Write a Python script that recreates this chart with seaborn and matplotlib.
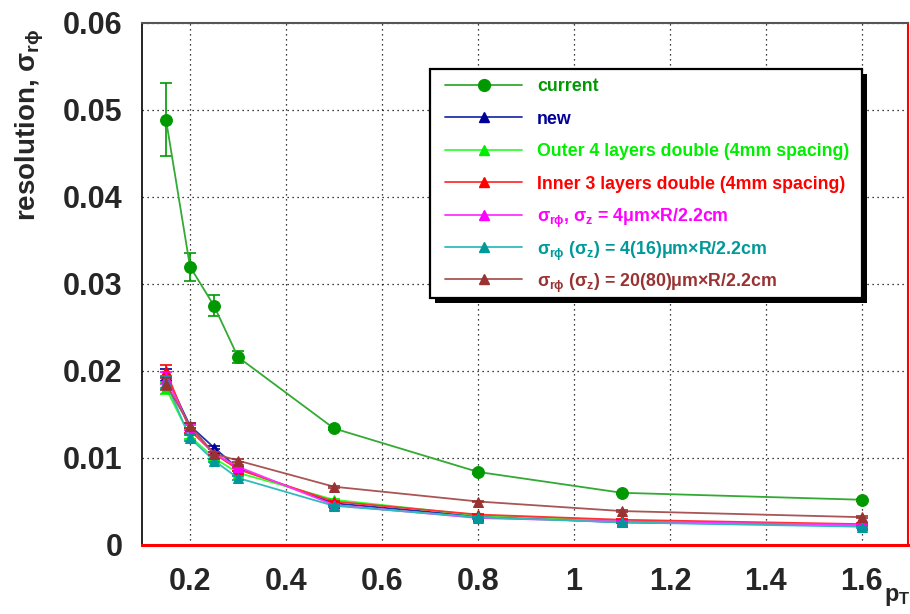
import numpy as np
import pandas as pd
import matplotlib
matplotlib.use("Agg")
import matplotlib.pyplot as plt
from matplotlib.ticker import MultipleLocator, FixedLocator, FixedFormatter
from matplotlib.patches import Rectangle
from matplotlib.lines import Line2D
import seaborn as sns

# ---- data ----
pt = [0.15, 0.2, 0.25, 0.3, 0.5, 0.8, 1.1, 1.6]
current = [0.0489, 0.0320, 0.0275, 0.0216, 0.0134, 0.0084, 0.0060, 0.0052]
current_err = [0.0042, 0.0016, 0.0012, 0.0007, 0.0002, 0.0002, 0.0001, 0.0001]
new = [0.0195, 0.0137, 0.0112, 0.0088, 0.0048, 0.0033, 0.0026, 0.0023]
outer4 = [0.0180, 0.0125, 0.0100, 0.0083, 0.0052, 0.0034, 0.0028, 0.0023]
inner3 = [0.0200, 0.0132, 0.0105, 0.0087, 0.0050, 0.0035, 0.0029, 0.0024]
res4 = [0.0192, 0.0135, 0.0105, 0.0090, 0.0046, 0.0031, 0.0027, 0.0023]
res4_16 = [0.0187, 0.0123, 0.0097, 0.0077, 0.0045, 0.0032, 0.0026, 0.0021]
res20_80 = [0.0185, 0.0137, 0.0105, 0.0097, 0.0067, 0.0050, 0.0039, 0.0032]
small_err = [0.0007, 0.0003, 0.0002, 0.0002, 0.0001, 0.0001, 0.0001, 0.0001]

xticks = [0.2, 0.4, 0.6, 0.8, 1.0, 1.2, 1.4, 1.6]
xticklabels = ["0.2", "0.4", "0.6", "0.8", "1", "1.2", "1.4", "1.6"]
yticks = [0.0, 0.01, 0.02, 0.03, 0.04, 0.05, 0.06]
yticklabels = ["0", "0.01", "0.02", "0.03", "0.04", "0.05", "0.06"]

labels = [
    "current",
    "new",
    "Outer 4 layers double (4mm spacing)",
    "Inner 3 layers double (4mm spacing)",
    r"$\sigma_{r\phi}$, $\sigma_z$ = 4$\mu$m$\times$R/2.2cm",
    r"$\sigma_{r\phi}$ ($\sigma_z$) = 4(16)$\mu$m$\times$R/2.2cm",
    r"$\sigma_{r\phi}$ ($\sigma_z$) = 20(80)$\mu$m$\times$R/2.2cm",
]
series = [current, new, outer4, inner3, res4, res4_16, res20_80]
line_colors = ["#33aa33", "#2233aa", "#33ff33", "#ff3333", "#ff33ff", "#33bbbb", "#aa5555"]
mk_colors = ["#009900", "#000099", "#00ee00", "#ff0000", "#ff00ff", "#009999", "#993333"]
markers = ["o", "^", "^", "^", "^", "^", "^"]
msizes = [8.5, 7, 7, 7, 7, 7, 7]

sns.set_style("white")
plt.rcParams["font.family"] = ["Liberation Sans", "DejaVu Sans"]
plt.rcParams["font.weight"] = "bold"
plt.rcParams["mathtext.fontset"] = "custom"
plt.rcParams["mathtext.rm"] = "Liberation Sans:bold"
plt.rcParams["mathtext.it"] = "Liberation Sans:bold"
plt.rcParams["mathtext.bf"] = "Liberation Sans:bold"
plt.rcParams["mathtext.sf"] = "Liberation Sans:bold"

W, H = 910, 614
fig = plt.figure(figsize=(9.1, 6.14), dpi=100)
AX_L, AX_R, AX_T, AX_B = 142, 908, 23, 545
ax = fig.add_axes([AX_L / W, 1 - AX_B / H, (AX_R - AX_L) / W, (AX_B - AX_T) / H])

def axx(px):
    return (px - AX_L) / (AX_R - AX_L)

def axy(py):
    return (AX_B - py) / (AX_B - AX_T)

for i, (lab, vals) in enumerate(zip(labels, series)):
    d = pd.DataFrame({"pt": pt, "val": vals})
    sns.lineplot(data=d, x="pt", y="val", ax=ax, color=line_colors[i], lw=1.3,
                 marker=markers[i], markersize=msizes[i],
                 markerfacecolor=mk_colors[i], markeredgecolor=mk_colors[i],
                 zorder=3 + (1 if i == 0 else 0), estimator=None, legend=False)
    err = current_err if i == 0 else small_err
    ax.errorbar(pt, vals, yerr=err, fmt="none", ecolor=mk_colors[i], elinewidth=1.2,
                capsize=4, capthick=1.2, zorder=3)

ax.set_xlim(0.1, 1.696)
ax.set_ylim(0, 0.06)
ax.xaxis.set_major_locator(FixedLocator(xticks))
ax.xaxis.set_major_formatter(FixedFormatter(xticklabels))
ax.xaxis.set_minor_locator(MultipleLocator(0.05))
ax.yaxis.set_major_locator(FixedLocator(yticks))
ax.yaxis.set_major_formatter(FixedFormatter(yticklabels))
ax.yaxis.set_minor_locator(MultipleLocator(0.002))
ax.tick_params(axis="both", which="major", direction="out", length=12, width=1,
               labelsize=22, color="black")
ax.tick_params(axis="both", which="minor", direction="out", length=6, width=1, color="black")
ax.tick_params(axis="x", which="major", pad=4)
ax.tick_params(axis="y", which="major", pad=2)
for t in ax.get_xticklabels() + ax.get_yticklabels():
    t.set_fontweight("bold")

ax.grid(True, which="major", color="black", linestyle=(0, (1, 3)), linewidth=0.9)
ax.set_axisbelow(True)
ax.set_xlabel("")
ax.set_ylabel("")

for s in ["left", "top", "right", "bottom"]:
    ax.spines[s].set_visible(True)
ax.spines["left"].set_color("black")
ax.spines["left"].set_linewidth(1.2)
ax.spines["top"].set_color("#555555")
ax.spines["top"].set_linewidth(1.5)
ax.spines["right"].set_color("red")
ax.spines["right"].set_linewidth(1.5)
ax.spines["bottom"].set_color("red")
ax.spines["bottom"].set_linewidth(2.2)
ax.spines["bottom"].set_zorder(5)

# ---- legend box (drawn as a ROOT-style TLegend) ----
LG_L, LG_R, LG_T, LG_B = 430, 862, 69, 298
sh = 5
ax.add_patch(Rectangle((axx(LG_L + sh), axy(LG_B + sh)), axx(LG_R) - axx(LG_L),
                       axy(LG_T) - axy(LG_B), transform=ax.transAxes, facecolor="black",
                       edgecolor="none", zorder=8, clip_on=False))
ax.add_patch(Rectangle((axx(LG_L), axy(LG_B)), axx(LG_R) - axx(LG_L),
                       axy(LG_T) - axy(LG_B), transform=ax.transAxes, facecolor="white",
                       edgecolor="black", linewidth=1.6, zorder=9, clip_on=False))
row0, dy = 85, 32.4
for i, lab in enumerate(labels):
    yy = axy(row0 + dy * i)
    ax.add_line(Line2D([axx(445), axx(522)], [yy, yy], transform=ax.transAxes,
                       color=line_colors[i], lw=1.3, zorder=10))
    ax.add_line(Line2D([axx(483.5)], [yy], transform=ax.transAxes, marker=markers[i],
                       markersize=msizes[i], color=mk_colors[i], zorder=11, lw=0))
    ax.text(axx(537), yy, lab, transform=ax.transAxes, color=mk_colors[i], fontsize=12.8,
            fontweight="bold", ha="left", va="center_baseline", zorder=11)

fig.text(0.033, 1 - 125 / H, r"resolution, $\sigma_{r\phi}$", rotation=90, ha="center",
         va="center", fontsize=20, fontweight="bold")
fig.text(884 / W, 1 - 596 / H, r"$p_T$", ha="left", va="center", fontsize=17)

fig.savefig("out.png", dpi=100)
